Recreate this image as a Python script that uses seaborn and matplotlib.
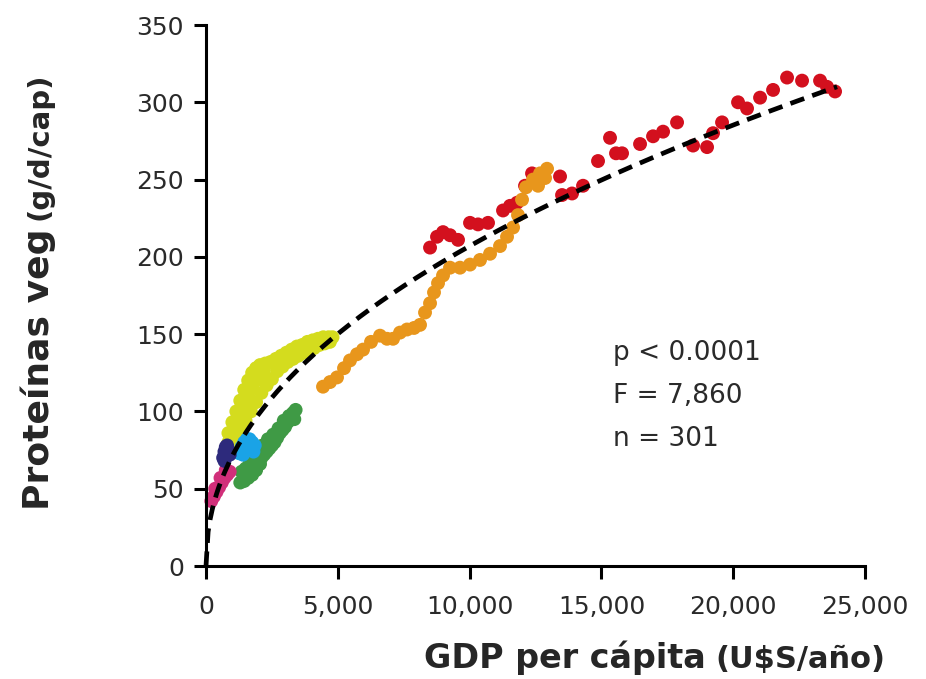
import numpy as np
import pandas as pd
import matplotlib
matplotlib.use("Agg")
import matplotlib.pyplot as plt
import seaborn as sns

# ── Datos (GDP per cápita U$S/año, proteínas veg g/d/cap) ──
yellow_x = [850, 1000, 1150, 1300, 1450, 1600, 1750, 1900, 2050,
            850, 1000, 1150, 1300, 1450, 1600, 1750, 1900, 2050, 2200,
            900, 1100, 1300, 1500, 1700, 1900, 2100, 2300, 2500,
            2250, 2450, 2650, 2850, 3050, 3250, 3450, 3650, 3850, 4050, 4250,
            4450, 4650, 4800,
            2700, 2900, 3100, 3300, 3500, 3700, 3900, 4100, 4300, 4500, 4700]
yellow_y = [86, 93, 100, 107, 114, 120, 125, 128, 130,
            80, 86, 92, 98, 104, 110, 115, 120, 124, 127,
            76, 82, 88, 94, 100, 106, 112, 117, 121,
            131, 132, 134, 136, 138, 140, 142, 143, 145, 146, 147,
            148, 148, 148,
            126, 129, 132, 134, 136, 138, 140, 141, 143, 144, 145]

green_x = [1300, 1450, 1600, 1750, 1900, 1350, 1500, 1650, 1800, 1950, 2050,
           2100, 2200, 2300, 2400, 2500, 2600, 2700, 2800, 2900, 3000, 3100, 3200,
           3300, 3400, 2150, 2350, 2550, 2750, 2950, 3150, 3350]
green_y = [54, 55, 57, 59, 62, 61, 63, 66, 68, 70, 66,
           70, 72, 74, 76, 78, 80, 83, 86, 88, 90, 93, 96,
           99, 101, 78, 82, 85, 89, 94, 97, 95]

pink_x = [200, 300, 400, 500, 600, 700, 800, 900, 350, 550, 750]
pink_y = [42, 45, 48, 51, 54, 57, 59, 61, 50, 57, 62]

cyan_x = [1250, 1350, 1450, 1550, 1650, 1750, 1850, 1400, 1600, 1800]
cyan_y = [73, 77, 80, 82, 82, 80, 78, 72, 76, 74]

navy_x = [650, 700, 750, 800, 850, 900, 700]
navy_y = [70, 74, 77, 78, 75, 72, 68]

red_x = [8499, 8764, 8992, 9257, 9561, 10016, 10320, 10699, 11268, 11534, 11800,
         12103, 12369, 13431, 13507, 13886, 14303, 14872, 15327, 15555, 15783,
         16466, 16959, 17339, 17870, 18477, 19008, 19235, 19577, 20184, 20525,
         21019, 21512, 22043, 22612, 23295, 23561, 23864]
red_y = [206, 213, 216, 214, 211, 222, 221, 222, 230, 233, 235,
         246, 254, 252, 240, 241, 246, 262, 277, 267, 267,
         273, 278, 281, 287, 272, 271, 280, 287, 300, 296,
         303, 308, 316, 314, 314, 310, 307]

orange_x = [4439, 4705, 4970, 5236, 5463, 5729, 5957, 6260, 6602, 6867, 7095, 7360,
            7626, 7892, 8119, 8309, 8499, 8650, 8802, 8992, 9257, 9637, 10016,
            10395, 10775, 11154, 11420, 11648, 11837, 11989, 12141, 12407, 12672,
            12938, 12862, 12596]
orange_y = [116, 119, 122, 128, 133, 137, 140, 145, 149, 147, 147, 151,
            153, 154, 156, 164, 170, 177, 183, 188, 193, 193, 195,
            198, 202, 207, 213, 219, 227, 237, 245, 250, 254,
            257, 251, 246]

# Ajuste potencial (línea punteada): y = A * x^B
FIT_A = 2.91
FIT_B = 0.463
FIT_XMAX = 23940

groups = [
    ("amarillo", yellow_x, yellow_y, "#d4dc1e"),
    ("verde", green_x, green_y, "#3f9a45"),
    ("rosa", pink_x, pink_y, "#d12f7a"),
    ("celeste", cyan_x, cyan_y, "#1aa3e6"),
    ("azul", navy_x, navy_y, "#2d2a7c"),
    ("rojo", red_x, red_y, "#d3101e"),
    ("naranja", orange_x, orange_y, "#e8961c"),
]

df = pd.concat([pd.DataFrame({"gdp": gx, "prot": gy, "grupo": g})
                for g, gx, gy, _ in groups], ignore_index=True)
palette = {g: c for g, _, _, c in groups}

sns.set_style("ticks")
plt.rcParams["font.family"] = ["DejaVu Sans"]

W, H = 926, 679
fig = plt.figure(figsize=(W / 100, H / 100), dpi=100)
ax = fig.add_axes([206 / W, 113 / H, 659 / W, 541 / H])

sns.scatterplot(data=df, x="gdp", y="prot", hue="grupo", palette=palette,
                s=100, linewidth=0, legend=False, ax=ax, clip_on=False, zorder=2)

fit_x = np.linspace(0, FIT_XMAX, 300)
fit_y = FIT_A * fit_x ** FIT_B
sns.lineplot(x=fit_x, y=fit_y, color="black", linewidth=3.4,
             linestyle=(0, (3.1, 1.8)), sort=False, ax=ax, zorder=3, clip_on=False)

ax.set_xlim(0, 25000)
ax.set_ylim(0, 350)
ax.set_xticks(range(0, 25001, 5000))
ax.set_yticks(range(0, 351, 50))
ax.set_xticklabels([f"{v:,}" for v in range(0, 25001, 5000)])
ax.set_xlabel("")
ax.set_ylabel("")
sns.despine(ax=ax)
for sp in ("left", "bottom"):
    ax.spines[sp].set_linewidth(2.2)
    ax.spines[sp].set_color("black")
ax.tick_params(axis="both", length=9, width=2.2, labelsize=18,
               labelcolor="#2a2a2a", color="black")
ax.tick_params(axis="x", pad=12)
ax.tick_params(axis="y", pad=7)

ax.text(0.618, 0.418, "p < 0.0001\nF = 7,860\nn = 301", transform=ax.transAxes,
        fontsize=19, color="#2a2a2a", va="top", ha="left", linespacing=1.85)

# Etiquetas de ejes (dos tamaños)
ylab = fig.text(38 / W, (H - 510) / H, "Proteínas veg", rotation=90,
                rotation_mode="anchor", ha="left", va="center",
                fontsize=26, fontweight="bold")
xlab = fig.text(424 / W, (H - 668) / H, "GDP per cápita", ha="left",
                va="baseline", fontsize=24, fontweight="bold")
fig.canvas.draw()
r = fig.canvas.get_renderer()
bb_y = ylab.get_window_extent(r)
bb_x = xlab.get_window_extent(r)
fig.text(40 / W, (bb_y.y1 + 8) / H, "(g/d/cap)", rotation=90,
         rotation_mode="anchor", ha="left", va="center",
         fontsize=21, fontweight="bold")
fig.text((bb_x.x1 + 10) / W, (H - 668) / H, "(U$S/año)", ha="left",
         va="baseline", fontsize=22, fontweight="bold")

fig.savefig("out.png", dpi=100)
